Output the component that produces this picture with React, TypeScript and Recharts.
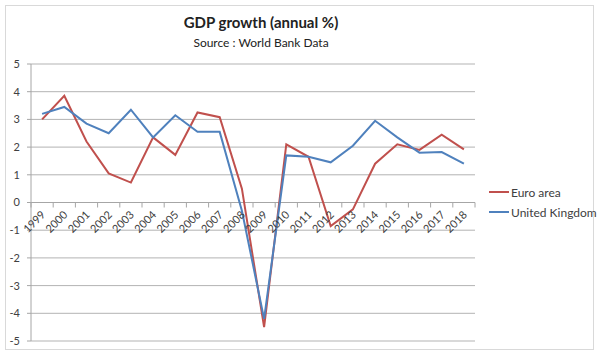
import React from 'react';
import { LineChart, Line, XAxis, YAxis, CartesianGrid, ReferenceLine } from 'recharts';

const years = ['1999','2000','2001','2002','2003','2004','2005','2006','2007','2008','2009','2010','2011','2012','2013','2014','2015','2016','2017','2018'];
const euroArea = [3.0, 3.85, 2.2, 1.05, 0.72, 2.35, 1.72, 3.25, 3.08, 0.5, -4.5, 2.1, 1.65, -0.85, -0.25, 1.4, 2.1, 1.9, 2.45, 1.92];
const unitedKingdom = [3.2, 3.45, 2.85, 2.5, 3.35, 2.35, 3.15, 2.55, 2.55, -0.3, -4.2, 1.7, 1.65, 1.45, 2.05, 2.95, 2.35, 1.8, 1.82, 1.4];
const yTicks = [-5, -4, -3, -2, -1, 0, 1, 2, 3, 4, 5];

const seriesNames = { euro: 'Euro area', uk: 'United Kingdom' };
const colors = { euro: '#C0504D', uk: '#4F81BD' };

const data = years.map((y, i) => ({ year: y, euro: euroArea[i], uk: unitedKingdom[i] }));

const W = 600;
const H = 357;
const X_AXIS_H = 16;
const M = { top: 64, right: 125, bottom: 0, left: 5 };
const Y_AXIS_W = 26;
const PLOT_H = H - M.top - M.bottom - X_AXIS_H;
const PLOT_W = W - M.left - M.right - Y_AXIS_W;
const ZERO_Y = M.top + PLOT_H / 2;
const BAND = PLOT_W / years.length;
const FONT = 'Lato, "Open Sans", sans-serif';
const AXIS_COLOR = '#a6a6a6';
const TEXT_COLOR = '#404040';

const XTick = (props: any) => {
  const { x, payload, index } = props;
  const ax = x + 4;
  const ay = ZERO_Y + 13;
  return (
    <g>
      <line x1={x - BAND / 2} x2={x - BAND / 2} y1={ZERO_Y} y2={ZERO_Y + 5} stroke={AXIS_COLOR} />
      {index === years.length - 1 && (
        <line x1={x + BAND / 2} x2={x + BAND / 2} y1={ZERO_Y} y2={ZERO_Y + 5} stroke={AXIS_COLOR} />
      )}
      <text x={ax} y={ay} textAnchor="end" fontSize={11} fill={TEXT_COLOR} fontFamily={FONT}
        transform={`rotate(-45 ${ax} ${ay})`}>{payload.value}</text>
    </g>
  );
};

const LegendBox = () => (
  <div style={{ position: 'absolute', left: 489, top: 182, fontFamily: FONT, fontSize: 12, color: TEXT_COLOR }}>
    {(['euro', 'uk'] as const).map((k) => (
      <div key={k} style={{ display: 'flex', alignItems: 'center', height: 20 }}>
        <span style={{ display: 'inline-block', width: 20, height: 0, borderTop: `2px solid ${colors[k]}`, marginRight: 2 }} />
        <span>{seriesNames[k]}</span>
      </div>
    ))}
  </div>
);

export default function App() {
  return (
    <div style={{ position: 'absolute', left: 0, top: 0, width: W, height: H, background: '#fff' }}>
      <div style={{ position: 'absolute', left: 5, top: 5, width: 587, height: 343, border: '1px solid #d9d9d9' }} />
      <div style={{ position: 'absolute', left: 0, width: 522, top: 13, textAlign: 'center', fontFamily: FONT, fontWeight: 700, fontSize: 15, color: '#222' }}>
        GDP growth (annual %)
      </div>
      <div style={{ position: 'absolute', left: 0, width: 522, top: 35, textAlign: 'center', fontFamily: FONT, fontSize: 12, color: '#222' }}>
        Source : World Bank Data
      </div>
      <div style={{ position: 'absolute', left: 0, top: 0 }}>
        <LineChart width={W} height={H} data={data} margin={M}>
          <CartesianGrid vertical={false} stroke="#b3b3b3" />
          <XAxis dataKey="year" height={X_AXIS_H} axisLine={false} tickLine={false} interval={0}
            padding={{ left: BAND / 2, right: BAND / 2 }} tick={<XTick />} />
          <YAxis width={Y_AXIS_W} domain={[-5, 5]} ticks={yTicks} interval={0} stroke={AXIS_COLOR}
            tickSize={4} tickMargin={7} tick={{ fontSize: 11, fill: TEXT_COLOR, fontFamily: FONT }} />
          <ReferenceLine y={0} stroke={AXIS_COLOR} />
          <Line type="linear" dataKey="euro" name={seriesNames.euro} stroke={colors.euro} strokeWidth={2} dot={false} isAnimationActive={false} />
          <Line type="linear" dataKey="uk" name={seriesNames.uk} stroke={colors.uk} strokeWidth={2} dot={false} isAnimationActive={false} />
        </LineChart>
      </div>
      <LegendBox />
    </div>
  );
}
